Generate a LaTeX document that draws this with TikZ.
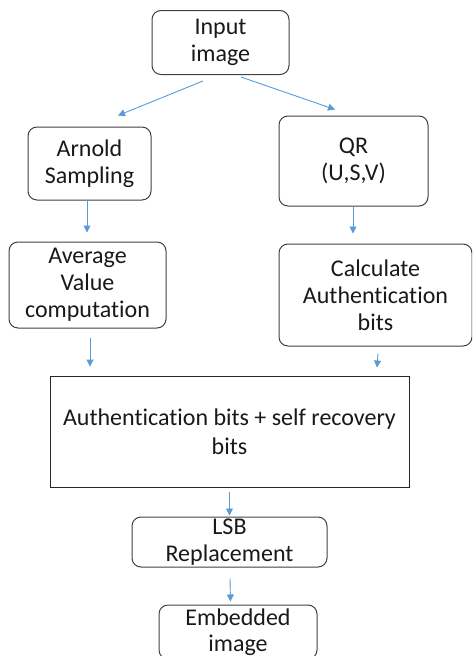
\documentclass[tikz,border=0pt]{standalone}
\usepackage{fontspec}
\setmainfont[Ligatures={NoCommon}]{Carlito}
\usetikzlibrary{arrows.meta,calc}
\definecolor{arrblue}{HTML}{5B9BD5}
\definecolor{edge}{HTML}{404040}
\tikzset{
  rbox/.style={draw=edge, line width=1pt, rounded corners=9pt, inner sep=0pt, align=center,
    font=\fontsize{24}{27}\selectfont, text=black!90},
  sbox/.style={draw=black!85, line width=0.9pt, inner sep=0pt, align=center,
    font=\fontsize{24}{29}\selectfont, text=black!90},
  arr/.style={draw=arrblue, line width=0.9pt, -{Triangle[length=7pt,width=7pt]}}
}
\begin{document}
\begin{tikzpicture}[x=1pt,y=-1pt]
\useasboundingbox (0,0) rectangle (472,656);
\clip (0,0) rectangle (472,656);
\node[rbox, minimum width=137pt, minimum height=64pt] (input) at (220.5,42.5) {Input\\image};
\node[rbox, minimum width=123pt, minimum height=73pt] (arnold) at (89.5,163.5) {Arnold\\Sampling};
\node[rbox, minimum width=149pt, minimum height=90pt] (qr) at (353.5,161) {QR\\(U,S,V)};
\node[rbox, minimum width=157pt, minimum height=86pt] (avg) at (87.5,285) {Average\\Value\\computation};
\node[rbox, minimum width=193pt, minimum height=102pt] (calc) at (375.5,295) {Calculate\\Authentication\\bits};
\node[sbox, minimum width=359pt, minimum height=111pt] (main) at (229.5,431.5) {Authentication bits + self recovery\\bits};
\node[rbox, minimum width=195pt, minimum height=50pt] (lsb) at (229.5,542) {LSB\\Replacement};
\node[rbox, minimum width=158pt, minimum height=54pt, font=\fontsize{24}{26}\selectfont] (emb) at (238,632) {Embedded\\image};

\draw[arr] ([xshift=-17.5pt,yshift=-6pt]input.south) -- ([xshift=28.5pt,yshift=11pt]arnold.north);
\draw[arr] ([xshift=20.5pt,yshift=-2pt]input.south) -- ([xshift=-18.5pt,yshift=6pt]qr.north);
\draw[arr] ([xshift=-2.5pt]arnold.south) -- ([xshift=-0.5pt,yshift=9pt]avg.north);
\draw[arr] ([xshift=-0.5pt]qr.south) -- ([xshift=-22.5pt,yshift=10pt]calc.north);
\draw[arr] ([xshift=2.5pt,yshift=-9pt]avg.south) -- ([xshift=-139.5pt,yshift=9pt]main.north);
\draw[arr] ([xshift=2.5pt,yshift=-7pt]calc.south) -- ([xshift=147.5pt,yshift=8pt]main.north);
\draw[arr] ([yshift=-5pt]main.south) -- ([yshift=1pt]lsb.north);
\draw[arr] ([xshift=0.5pt,yshift=-11pt]lsb.south) -- ([xshift=-7.5pt,yshift=3pt]emb.north);
\end{tikzpicture}
\end{document}
